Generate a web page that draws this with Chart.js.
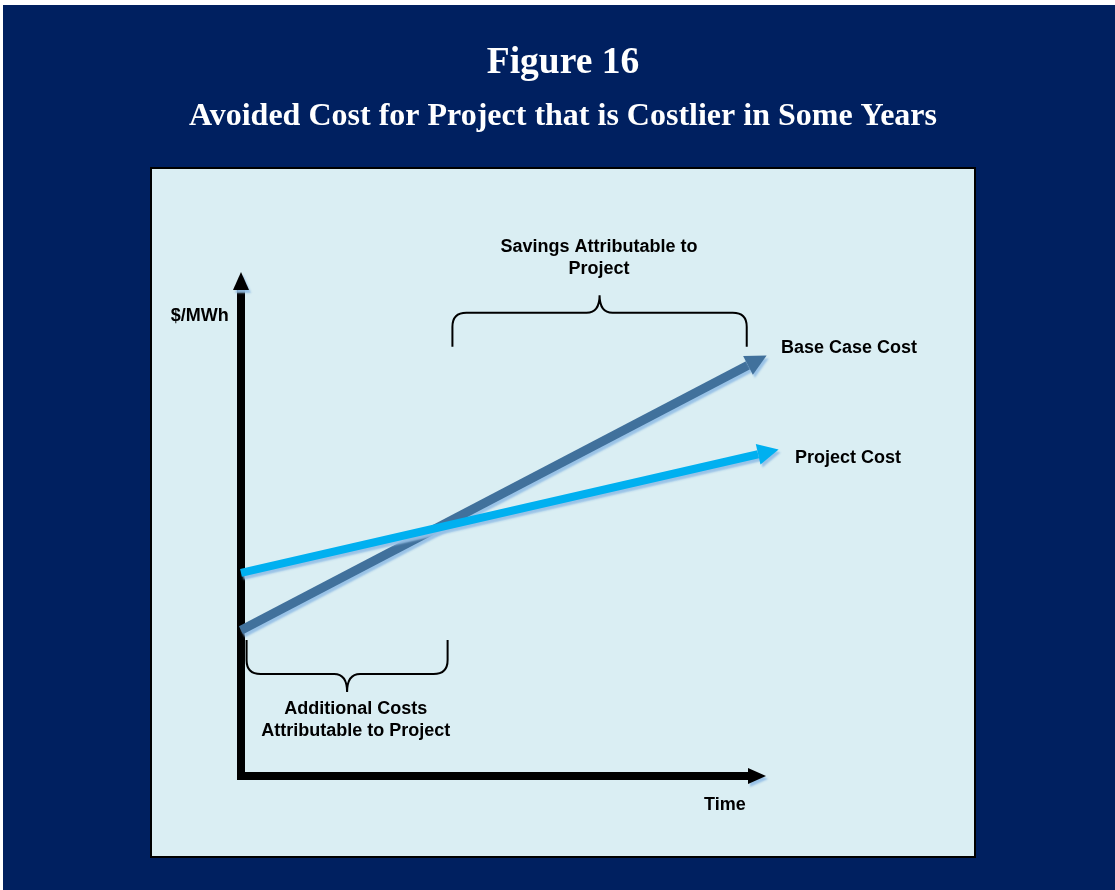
<!DOCTYPE html>
<html><head><meta charset="utf-8">
<script src="https://cdn.jsdelivr.net/npm/chart.js@4/dist/chart.umd.min.js"></script>
<style>html,body{margin:0;padding:0;background:#fff;overflow:hidden}#wrap{width:1115px;height:890px;position:relative}canvas{display:block}</style>
</head><body><div id="wrap"><canvas id="c" width="1115" height="890"></canvas></div>
<script>
// ---- content ----
const figureTitle = 'Figure 16';
const figureSubtitle = 'Avoided Cost for Project that is Costlier in Some Years';
const seriesNames = ['Base Case Cost', 'Project Cost'];
const baseCaseX = [0, 20.0];
const baseCaseY = [30.0, 84.5];
const projectX = [0, 20.4];
const projectY = [41.8, 66.2];
const xRange = [0, 20];
const yRange = [0, 100];
const axisTitleY = '$/MWh';
const axisTitleX = 'Time';
const savingsLabel = ['Savings Attributable to', 'Project'];
const additionalLabel = ['Additional Costs', 'Attributable to Project'];
// brace spans in data units: [xStart, xEnd, yOpen, yBar, yTip]
const savingsBrace = [8.34, 19.95, 88.3, 95.3, 98.9];
const additionalBrace = [0.22, 8.15, 28.0, 21.0, 17.3];

// text annotations: [lines, x, y, align]
const textNotes = [
  [[axisTitleY], -1.63, 94.65, 'center'],
  [[axisTitleX], 19.09, -5.97, 'center'],
  [[seriesNames[0]], 21.3, 88.0, 'left'],
  [[seriesNames[1]], 21.85, 65.4, 'left'],
  [savingsLabel, 14.12, 108.9, 'center'],
  [additionalLabel, 4.53, 13.7, 'center']
];

const NAVY = '#002060';
const PANEL = '#DAEEF3';
const BASE_COLOR = '#41719C';
const PROJECT_COLOR = '#00B0F0';
const SHADOW = 'rgba(150,192,230,0.95)';
const LABEL_FONT = "bold 18px 'Liberation Sans', Arial, sans-serif";

const bgPlugin = {
  id: 'bg',
  beforeDraw(chart) {
    const c = chart.ctx;
    c.save();
    c.fillStyle = '#fff';
    c.fillRect(0, 0, chart.width, chart.height);
    c.fillStyle = NAVY;
    c.fillRect(3, 5, chart.width - 3, chart.height - 5);
    c.fillStyle = PANEL;
    c.fillRect(151, 168, 824, 689);
    c.strokeStyle = '#000';
    c.lineWidth = 2;
    c.strokeRect(151, 168, 824, 689);
    c.restore();
  }
};

function arrowHead(c, px, py, ux, uy, len, half, color) {
  const nx = -uy, ny = ux;
  c.beginPath();
  c.moveTo(px + ux * len, py + uy * len);
  c.lineTo(px + nx * half, py + ny * half);
  c.lineTo(px - nx * half, py - ny * half);
  c.closePath();
  c.fillStyle = color;
  c.fill();
}

function drawBrace(c, xs, ys, b) {
  const x1 = xs.getPixelForValue(b[0]);
  const x2 = xs.getPixelForValue(b[1]);
  const yo = ys.getPixelForValue(b[2]);
  const yb = ys.getPixelForValue(b[3]);
  const yt = ys.getPixelForValue(b[4]);
  const xm = (x1 + x2) / 2;
  const dir = yb < yo ? -1 : 1;
  const r = 14, cw = 13;
  c.beginPath();
  c.moveTo(x1, yo);
  c.lineTo(x1, yb - dir * r);
  c.quadraticCurveTo(x1, yb, x1 + r, yb);
  c.lineTo(xm - cw, yb);
  c.quadraticCurveTo(xm, yb, xm, yt);
  c.quadraticCurveTo(xm, yb, xm + cw, yb);
  c.lineTo(x2 - r, yb);
  c.quadraticCurveTo(x2, yb, x2, yb - dir * r);
  c.lineTo(x2, yo);
  c.stroke();
}

const decoPlugin = {
  id: 'deco',
  beforeDatasetsDraw(chart) {
    const c = chart.ctx;
    c.save();
    c.shadowColor = SHADOW;
    c.shadowOffsetX = 2;
    c.shadowOffsetY = 3;
    c.shadowBlur = 2;
  },
  afterDatasetsDraw(chart) {
    const c = chart.ctx;
    chart.data.datasets.forEach((ds, i) => {
      const pts = chart.getDatasetMeta(i).data;
      const a = pts[pts.length - 2], b = pts[pts.length - 1];
      const dx = b.x - a.x, dy = b.y - a.y, L = Math.hypot(dx, dy);
      arrowHead(c, b.x, b.y, dx / L, dy / L, 21, 10.5, ds.borderColor);
    });
    c.restore();
    c.save();
    c.shadowColor = SHADOW;
    c.shadowOffsetX = 2;
    c.shadowOffsetY = 3;
    c.shadowBlur = 2;
  },
  afterDraw(chart) {
    const c = chart.ctx;
    const a = chart.chartArea;
    arrowHead(c, a.left, a.top, 0, -1, 18, 8, '#000');
    arrowHead(c, a.right, a.bottom, 1, 0, 18, 8, '#000');
    c.restore();
    const xs = chart.scales.x, ys = chart.scales.y;
    c.save();
    c.strokeStyle = '#000';
    c.lineWidth = 2;
    drawBrace(c, xs, ys, savingsBrace);
    drawBrace(c, xs, ys, additionalBrace);
    c.fillStyle = '#000';
    c.font = LABEL_FONT;
    c.textBaseline = 'middle';
    textNotes.forEach(([lines, x, y, align]) => {
      c.textAlign = align;
      const px = xs.getPixelForValue(x), py = ys.getPixelForValue(y);
      lines.forEach((t, k) => c.fillText(t, px, py + k * 22));
    });
    c.restore();
  }
};

const serifFont = (size) => ({family: "'Liberation Serif', 'Times New Roman', serif", size, weight: 'bold', lineHeight: 1.2});
const hiddenTicks = {display: false};

new Chart(document.getElementById('c'), {
  type: 'scatter',
  data: {
    datasets: [
      {label: seriesNames[0], data: baseCaseX.map((x, i) => ({x, y: baseCaseY[i]})), showLine: true,
       borderColor: BASE_COLOR, backgroundColor: BASE_COLOR, borderWidth: 9, pointRadius: 0, borderCapStyle: 'butt', clip: false, order: 1},
      {label: seriesNames[1], data: projectX.map((x, i) => ({x, y: projectY[i]})), showLine: true,
       borderColor: PROJECT_COLOR, backgroundColor: PROJECT_COLOR, borderWidth: 8, pointRadius: 0, borderCapStyle: 'butt', clip: false, order: 0}
    ]
  },
  options: {
    responsive: false,
    animation: false,
    devicePixelRatio: 1,
    events: [],
    layout: {padding: {left: 11, right: 0, top: 0, bottom: 0}},
    plugins: {
      legend: {display: false},
      tooltip: {enabled: false},
      title: {display: true, text: figureTitle, color: '#fff', font: serifFont(37.5), padding: {top: 40.5, bottom: 0}},
      subtitle: {display: true, text: figureSubtitle, color: '#fff', font: serifFont(32), padding: {top: 12.4, bottom: 153.7}}
    },
    scales: {
      x: {type: 'linear', min: xRange[0], max: xRange[1], position: 'bottom', z: 1,
          grid: {display: false}, ticks: hiddenTicks, border: {display: true, color: '#000', width: 8},
          afterFit: s => { s.height = 114; }},
      y: {type: 'linear', min: yRange[0], max: yRange[1], position: 'left', z: 1,
          grid: {display: false}, ticks: hiddenTicks, border: {display: true, color: '#000', width: 8},
          afterFit: s => { s.width = 230; }},
      y2: {type: 'linear', min: 0, max: 1, position: 'right',
          grid: {display: false}, ticks: hiddenTicks, border: {display: false},
          afterFit: s => { s.width = 367; }}
    }
  },
  plugins: [bgPlugin, decoPlugin]
});
</script>
</body></html>
